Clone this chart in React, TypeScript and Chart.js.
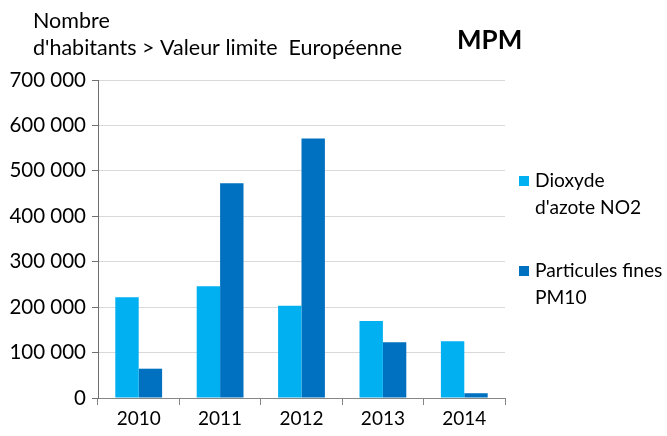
import React, { useEffect, useRef } from "react";
import { Chart, registerables } from "chart.js";

Chart.register(...registerables);

const years = ["2010", "2011", "2012", "2013", "2014"];
const no2 = [222000, 246000, 203000, 169500, 125000];
const pm10 = [64500, 472500, 571000, 122500, 10500];
const seriesNames = [["Dioxyde", "d'azote NO2"], ["Particules fines", "PM10"]];
const titleLines = ["Nombre", "d'habitants > Valeur limite  Européenne"];
const badge = "MPM";

const FONT = "Lato, 'Open Sans', sans-serif";

const fmt = (v: number) => String(v).replace(/\B(?=(\d{3})+(?!\d))/g, " ");

const textPlugin = {
  id: "textPlugin",
  afterDraw(chart: any) {
    const ctx = chart.ctx;
    ctx.save();
    ctx.fillStyle = "#000";
    ctx.textBaseline = "middle";
    ctx.textAlign = "left";
    ctx.font = `21.5px ${FONT}`;
    ctx.fillText(titleLines[0], 33, 21);
    ctx.fillText(titleLines[1], 33, 48);
    ctx.font = `bold 26px ${FONT}`;
    ctx.fillText(badge, 457, 41);
    // legend
    const entries = [
      { color: chart.data.datasets[0].backgroundColor, lines: seriesNames[0], y: 181 },
      { color: chart.data.datasets[1].backgroundColor, lines: seriesNames[1], y: 271 },
    ];
    ctx.font = `19.2px ${FONT}`;
    for (const e of entries) {
      ctx.fillStyle = e.color;
      ctx.fillRect(519, e.y - 5, 10, 10);
      ctx.fillStyle = "#000";
      e.lines.forEach((l: string, i: number) => ctx.fillText(l, 535, e.y + i * 27));
    }
    ctx.restore();
  },
};

export default function App() {
  const ref = useRef<HTMLCanvasElement>(null);
  useEffect(() => {
    const chart = new Chart(ref.current!, {
      type: "bar",
      data: {
        labels: years,
        datasets: [
          { label: seriesNames[0].join(" "), data: no2, backgroundColor: "#00B0F0", barPercentage: 1, categoryPercentage: 0.575 },
          { label: seriesNames[1].join(" "), data: pm10, backgroundColor: "#0070C0", barPercentage: 1, categoryPercentage: 0.575 },
        ],
      },
      options: {
        animation: false,
        responsive: false,
        maintainAspectRatio: false,
        layout: { padding: { top: 80, right: 162, left: 0, bottom: 0 } },
        plugins: { legend: { display: false }, tooltip: { enabled: false } },
        scales: {
          x: {
            grid: { display: true, drawOnChartArea: false, offset: true, color: "#868686", tickLength: 7 },
            border: { color: "#868686" },
            ticks: { color: "#000", font: { family: FONT, size: 19 }, padding: 2 },
            afterFit: (s: any) => { s.width = s.width; s.height = 38; },
          },
          y: {
            min: 0,
            max: 700000,
            ticks: { stepSize: 100000, color: "#000", font: { family: FONT, size: 20.5 }, padding: 6, callback: (v: any) => fmt(Number(v)) },
            grid: { color: "#D9D9D9", tickColor: "#6f6f6f", tickLength: 6 },
            border: { color: "#6f6f6f" },
            afterFit: (s: any) => { s.width = 98; },
          },
        },
      },
      plugins: [textPlugin],
    });
    return () => chart.destroy();
  }, []);
  return (
    <div style={{ position: "fixed", left: 0, top: 0, width: 667, height: 436, background: "#fff" }}>
      <canvas ref={ref} width={667} height={436} style={{ width: 667, height: 436 }} />
    </div>
  );
}
